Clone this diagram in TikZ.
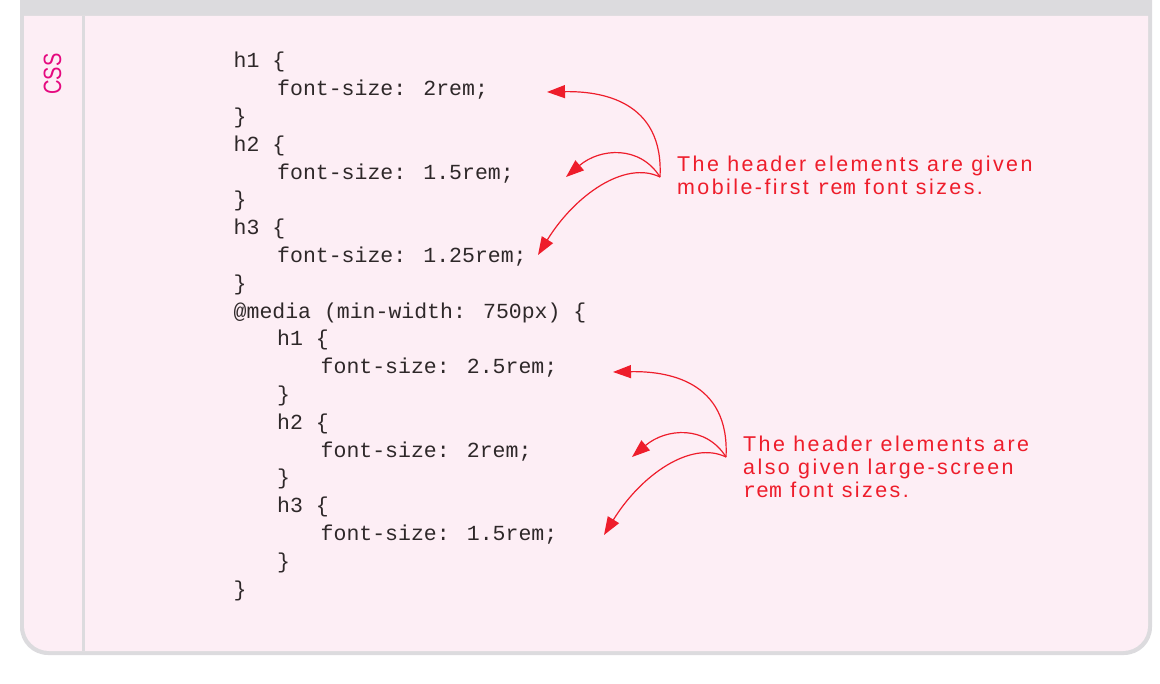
\documentclass[tikz,border=0pt]{standalone}
\usepackage{fontspec}
\usetikzlibrary{arrows.meta,calc}
\newfontfamily\codefont{Liberation Mono}
\newfontfamily\handfont[LetterSpace=11.5]{Liberation Sans}
\newfontfamily\labelfont{Liberation Sans}
\definecolor{framegrey}{HTML}{DCDBDE}
\definecolor{panelpink}{HTML}{FDEEF5}
\definecolor{noteRed}{HTML}{EE1D2B}
\definecolor{cssMag}{HTML}{E5097F}
\definecolor{codeInk}{HTML}{2E2829}
\newcommand{\remcode}{{\codefont\fontsize{21.5}{23}\selectfont rem}}
\begin{document}
\begin{tikzpicture}[x=1pt,y=-1pt,
  codeline/.style={anchor=base west, inner sep=0pt, font=\codefont\fontsize{21.5}{21.5}\selectfont, text=codeInk},
  noteline/.style={anchor=base west, inner sep=0pt, font=\handfont\fontsize{21.4}{23}\selectfont, text=noteRed},
  notearrow/.style={draw=noteRed, line width=1.2pt, -{Triangle[length=18pt,width=13pt]}}]
\useasboundingbox (0,0) rectangle (1160,684);
% frame
\fill[framegrey] (20,0) -- (1152,0) -- (1152,627) arc[start angle=0,end angle=90,radius=28]
  -- (48,655) arc[start angle=90,end angle=180,radius=28] -- cycle;
\fill[panelpink] (24,16) -- (1148,16) -- (1148,626) arc[start angle=0,end angle=90,radius=25]
  -- (49,651) arc[start angle=90,end angle=180,radius=25] -- cycle;
\fill[framegrey] (82,16) rectangle (85,651);
% label
\node[rotate=90, inner sep=0pt, font=\labelfont\fontsize{25}{25}\selectfont, text=cssMag] (csslabel) at (52.5,74) {\scalebox{0.8}[1]{CSS}};
% code
\node[codeline] (c0)  at (233.5,68.0)  {h1 \{};
\node[codeline] (c1)  at (277.0,95.8)  {font-size: 2rem;};
\node[codeline] (c2)  at (233.5,123.6) {\}};
\node[codeline] (c3)  at (233.5,151.4) {h2 \{};
\node[codeline] (c4)  at (277.0,179.2) {font-size: 1.5rem;};
\node[codeline] (c5)  at (233.5,207.0) {\}};
\node[codeline] (c6)  at (233.5,234.8) {h3 \{};
\node[codeline] (c7)  at (277.0,262.6) {font-size: 1.25rem;};
\node[codeline] (c8)  at (233.5,290.4) {\}};
\node[codeline] (c9)  at (233.5,318.2) {@media (min-width: 750px) \{};
\node[codeline] (c10) at (277.0,346.0) {h1 \{};
\node[codeline] (c11) at (320.5,373.8) {font-size: 2.5rem;};
\node[codeline] (c12) at (277.0,401.6) {\}};
\node[codeline] (c13) at (277.0,429.4) {h2 \{};
\node[codeline] (c14) at (320.5,457.2) {font-size: 2rem;};
\node[codeline] (c15) at (277.0,485.0) {\}};
\node[codeline] (c16) at (277.0,512.8) {h3 \{};
\node[codeline] (c17) at (320.5,540.6) {font-size: 1.5rem;};
\node[codeline] (c18) at (277.0,568.4) {\}};
\node[codeline] (c19) at (233.5,596.2) {\}};
% notes
\node[noteline] (n1a) at (677,172) {The header elements are given};
\node[noteline] (n1b) at (677,195) {mobile-first \remcode{} font sizes.};
\node[noteline] (n2a) at (743,452) {The header elements are};
\node[noteline] (n2b) at (743,475) {also given large-screen};
\node[noteline] (n2c) at (743,498) {\remcode{} font sizes.};
% arrows
\coordinate (o1) at (660,177);
\coordinate (t1a) at (547,92);
\coordinate (t1b) at (566,177);
\coordinate (t1c) at (538,255);
\coordinate (o2) at (726,457);
\coordinate (t2a) at (613,372);
\coordinate (t2b) at (632,457);
\coordinate (t2c) at (604,535);
\foreach \k in {1,2}{
  \draw[notearrow] (o\k) .. controls ($(o\k)+(4,-77)$) and ($(o\k)+(-60,-86)$) .. (t\k a);
  \draw[notearrow] (o\k) .. controls ($(o\k)+(-20,-32)$) and ($(o\k)+(-60,-29)$) .. (t\k b);
  \draw[notearrow] (o\k) .. controls ($(o\k)+(-35,-17)$) and ($(o\k)+(-85,18)$) .. (t\k c);
}
\end{tikzpicture}
\end{document}
